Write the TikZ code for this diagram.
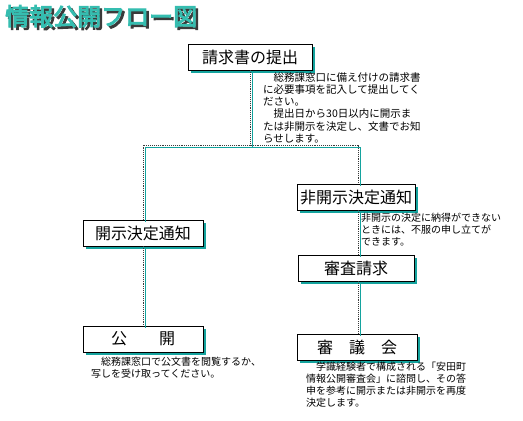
\documentclass[tikz,border=0pt]{standalone}
\usepackage{fontspec}
\setmainfont{Noto Sans CJK JP}
\newfontfamily\titlefont[FakeBold=4]{Noto Sans CJK JP}
\usetikzlibrary{shadows}
\definecolor{Teal}{HTML}{14A39E}
\definecolor{TitleTeal}{HTML}{35BDB0}
\definecolor{Dots}{HTML}{3A3A3A}

\begin{document}
\begin{tikzpicture}[x=1pt,y=-1pt,
  flowbox/.style={draw=black,line width=.8pt,fill=white,inner sep=0pt,
    minimum height=26pt,font=\fontsize{16}{16}\selectfont,
    drop shadow={shadow xshift=3pt,shadow yshift=-2.5pt,fill=Teal,opacity=1}},
  note/.style={anchor=north west,align=left,inner sep=0pt,font=\fontsize{10}{11.8}\selectfont},
  link/.style={draw=Dots,line width=.9pt,densely dotted},
  linkshade/.style={draw=Teal,line width=1.2pt}]
\useasboundingbox (0,0) rectangle (523,421);
% title
\node[anchor=north west,inner sep=0pt,font=\titlefont\fontsize{24}{24}\selectfont,text=Dots] (titleshade) at (7.5,7.5) {情報公開フロー図};
\node[anchor=north west,inner sep=0pt,font=\titlefont\fontsize{24}{24}\selectfont,text=TitleTeal] (title) at (5,5) {情報公開フロー図};
% boxes
\node[flowbox,minimum width=124pt] (request) at (250,57) {請求書の提出};
\node[flowbox,minimum width=118pt] (nondisclose) at (356,197) {非開示決定通知};
\node[flowbox,minimum width=120pt] (disclose) at (143,233) {開示決定通知};
\node[flowbox,minimum width=116pt] (review) at (356,268) {審査請求};
\node[flowbox,minimum width=120pt] (publish) at (143,339) {公　　開};
\node[flowbox,minimum width=120pt] (council) at (357,347) {審　議　会};
% connectors
\coordinate (split) at (250,145);
\coordinate (rightdrop) at (358,145);
\begin{scope}[transform canvas={shift={(2.2pt,-2.2pt)}}]
  \draw[linkshade] (request.south) -- (split);
  \draw[linkshade] (disclose.north) |- (split) -- (rightdrop) -- (rightdrop |- nondisclose.north);
  \draw[linkshade] (disclose.south) -- (publish.north);
  \draw[linkshade] (nondisclose.south -| rightdrop) -- (review.north -| rightdrop);
  \draw[linkshade] (review.south -| rightdrop) -- (council.north -| rightdrop);
\end{scope}
\draw[link] (request.south) -- (split);
\draw[link] (disclose.north) |- (split) -- (rightdrop) -- (rightdrop |- nondisclose.north);
\draw[link] (disclose.south) -- (publish.north);
\draw[link] (nondisclose.south -| rightdrop) -- (review.north -| rightdrop);
\draw[link] (review.south -| rightdrop) -- (council.north -| rightdrop);
% notes
\node[note,font=\fontsize{10.5}{12.3}\selectfont] (submitnote) at (263,72) {　総務課窓口に備え付けの請求書\\に必要事項を記入して提出してく\\ださい。\\　提出日から30日以内に開示ま\\たは非開示を決定し、文書でお知\\らせします。};
\node[note] (appealnote) at (361,213) {非開示の決定に納得ができない\\ときには、不服の申し立てが\\できます。};
\node[note] (publishnote) at (91,357) {　総務課窓口で公文書を閲覧するか、\\写しを受け取ってください。};
\node[note] (councilnote) at (306,362) {　学識経験者で構成される「安田町\\情報公開審査会」に諮問し、その答\\申を参考に開示または非開示を再度\\決定します。};
\end{tikzpicture}
\end{document}
